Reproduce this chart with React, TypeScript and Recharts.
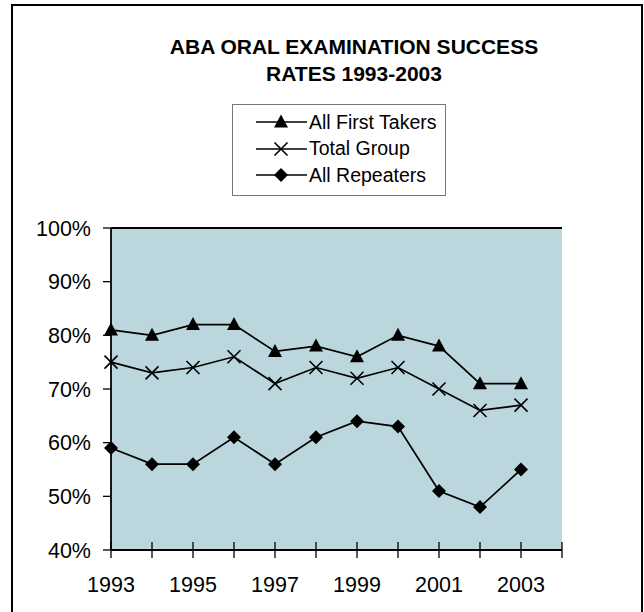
import { LineChart, Line, XAxis, YAxis, CartesianGrid } from 'recharts';

const years = [1993, 1994, 1995, 1996, 1997, 1998, 1999, 2000, 2001, 2002, 2003];
const firstTakers = [81, 80, 82, 82, 77, 78, 76, 80, 78, 71, 71];
const totalGroup = [75, 73, 74, 76, 71, 74, 72, 74, 70, 66, 67];
const repeaters = [59, 56, 56, 61, 56, 61, 64, 63, 51, 48, 55];
const xTicks = [1993, 1994, 1995, 1996, 1997, 1998, 1999, 2000, 2001, 2002, 2003, 2004];
const yTicks = [40, 50, 60, 70, 80, 90, 100];
const titleLines = ['ABA ORAL EXAMINATION SUCCESS', 'RATES 1993-2003'];

const FONT = '"Liberation Sans", Arial, sans-serif';
const PLOT_BG = '#BBD6DD';

const data = years.map((year, i) => ({
  year,
  first: firstTakers[i],
  total: totalGroup[i],
  rep: repeaters[i],
}));

type Shape = 'triangle' | 'cross' | 'diamond';

const series: { key: string; name: string; shape: Shape }[] = [
  { key: 'first', name: 'All First Takers', shape: 'triangle' },
  { key: 'total', name: 'Total Group', shape: 'cross' },
  { key: 'rep', name: 'All Repeaters', shape: 'diamond' },
];

function Marker({ cx, cy, shape }: { cx: number; cy: number; shape: Shape }) {
  if (shape === 'triangle') {
    return <polygon points={`${cx},${cy - 7.5} ${cx + 7},${cy + 5.5} ${cx - 7},${cy + 5.5}`} fill="#000" />;
  }
  if (shape === 'diamond') {
    return <polygon points={`${cx},${cy - 7} ${cx + 7},${cy} ${cx},${cy + 7} ${cx - 7},${cy}`} fill="#000" />;
  }
  return (
    <path d={`M${cx - 6.5},${cy - 6.5}L${cx + 6.5},${cy + 6.5}M${cx + 6.5},${cy - 6.5}L${cx - 6.5},${cy + 6.5}`} stroke="#000" strokeWidth={1.6} />
  );
}

const dotFor = (shape: Shape) => (p: any) =>
  <Marker key={`${shape}-${p.index}`} cx={p.cx} cy={p.cy} shape={shape} />;

function XTick({ x, y, payload }: any) {
  const v = payload.value as number;
  return (
    <g>
      <line x1={x} x2={x} y1={y - 8} y2={y + 8} stroke="#000" strokeWidth={1.3} />
      {v % 2 === 1 && v <= 2003 && (
        <text x={x} y={y + 42} textAnchor="middle" fontSize={21.5} fontFamily={FONT} fill="#000">
          {v}
        </text>
      )}
    </g>
  );
}

function LegendBox() {
  return (
    <div
      style={{
        position: 'absolute',
        left: 232,
        top: 104,
        width: 214,
        height: 92,
        boxSizing: 'border-box',
        border: '1px solid #777',
        background: '#fff',
        paddingTop: 4,
      }}
    >
      {series.map((s) => (
        <div key={s.key} style={{ display: 'flex', alignItems: 'center', height: 26.5 }}>
          <svg width={76} height={20} style={{ flex: 'none' }}>
            <line x1={23} x2={74} y1={10} y2={10} stroke="#000" strokeWidth={1.5} />
            <Marker cx={48} cy={10} shape={s.shape} />
          </svg>
          <span style={{ fontFamily: FONT, fontSize: 19.5, color: '#000', whiteSpace: 'nowrap' }}>{s.name}</span>
        </div>
      ))}
    </div>
  );
}

export default function App() {
  return (
    <div style={{ position: 'absolute', left: 0, top: 0, width: 644, height: 612, background: '#fff', overflow: 'hidden' }}>
      <div
        style={{
          position: 'absolute',
          left: 11,
          top: 4,
          width: 632,
          height: 700,
          border: '2px solid #000',
          boxSizing: 'border-box',
        }}
      />
      <div style={{ position: 'absolute', left: 0, top: 0 }}>
        <LineChart width={644} height={612} data={data} margin={{ top: 228, right: 82, bottom: 12, left: 11 }}>
          <text x={354} y={54} textAnchor="middle" fontSize={21} fontWeight="bold" fontFamily={FONT} fill="#000">
            {titleLines[0]}
          </text>
          <text x={354} y={81} textAnchor="middle" fontSize={21} fontWeight="bold" fontFamily={FONT} fill="#000">
            {titleLines[1]}
          </text>
          <CartesianGrid fill={PLOT_BG} fillOpacity={1} vertical={false} stroke="#000" strokeWidth={1.8} strokeDasharray="" />
          <XAxis
            dataKey="year"
            type="number"
            domain={[1993, 2004]}
            ticks={xTicks}
            interval={0}
            height={50}
            tickSize={0}
            tickMargin={0}
            axisLine={{ stroke: '#000', strokeWidth: 2 }}
            tick={<XTick />}
          />
          <YAxis
            yAxisId="left"
            domain={[40, 100]}
            ticks={yTicks}
            width={100}
            tickSize={8}
            tickMargin={12}
            interval={0}
            tickFormatter={(v: number) => `${v}%`}
            tick={{ fontSize: 21.5, fontFamily: FONT, fill: '#000' }}
            axisLine={{ stroke: '#000', strokeWidth: 1.8 }}
            tickLine={{ stroke: '#000', strokeWidth: 1.3 }}
          />
          <YAxis
            yAxisId="right"
            orientation="right"
            domain={[40, 100]}
            width={0}
            tick={false}
            tickLine={false}
            axisLine={{ stroke: '#000', strokeWidth: 1.8 }}
          />
          {series.map((s) => (
            <Line
              key={s.key}
              yAxisId="left"
              dataKey={s.key}
              name={s.name}
              stroke="#000"
              strokeWidth={1.7}
              dot={dotFor(s.shape)}
              activeDot={false}
              isAnimationActive={false}
            />
          ))}
        </LineChart>
      </div>
      <LegendBox />
    </div>
  );
}
